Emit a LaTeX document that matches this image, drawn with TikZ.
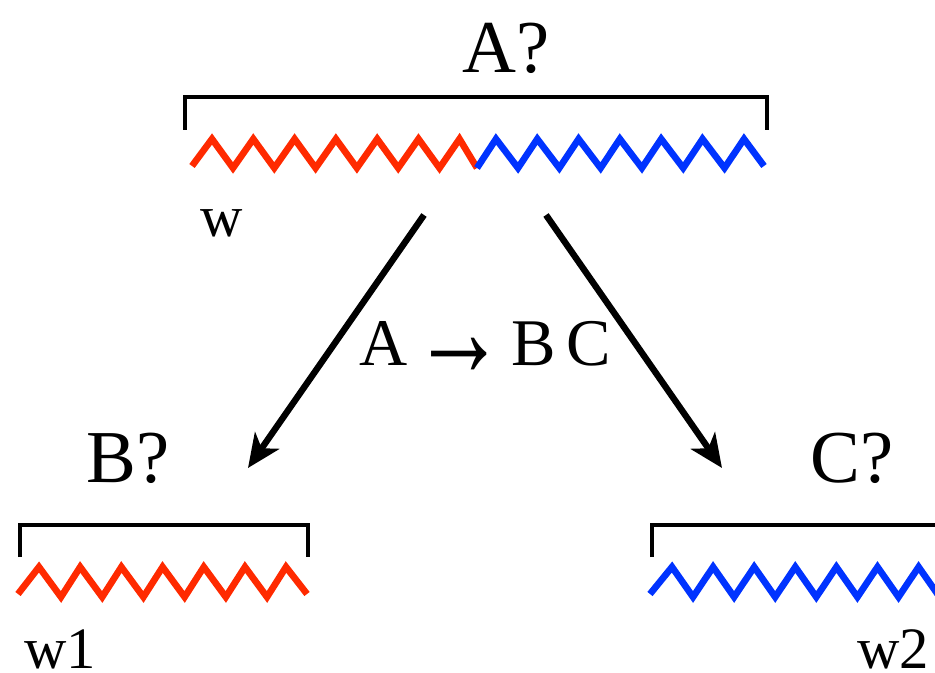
\documentclass[tikz,border=0pt]{standalone}
\usepackage{fontspec}
\setmainfont{Liberation Serif}
\usetikzlibrary{arrows.meta}
\definecolor{zred}{HTML}{FF2A00}
\definecolor{zblue}{HTML}{0033FF}
\newcommand{\bigrarrow}{$\vcenter{\hbox{\scalebox{1}[1.45]{\fontsize{70}{70}\selectfont\char"2192}}}$}
\begin{document}
\begin{tikzpicture}[x=0.75pt,y=-0.75pt,
  bracketline/.style={line width=2.4pt,line cap=butt,line join=miter},
  zig/.style={line width=5pt,line join=miter,miter limit=4,line cap=butt},
  bigtext/.style={font=\fontsize{56}{60}\selectfont,anchor=base,inner sep=0pt},
  midtext/.style={font=\fontsize{50}{56}\selectfont,anchor=base,inner sep=0pt},
  smalltext/.style={font=\fontsize{44}{48}\selectfont,anchor=base west,inner sep=0pt,text depth=0pt},
  bigarrow/.style={line width=4.8pt,-{Stealth[length=25pt,width=22pt,inset=7pt]}}]
\clip (0,0) rectangle (935,673);
\fill[white] (0,0) rectangle (935,673);

% top
\node[bigtext] (A) at (506,73) {A?};
\draw[bracketline] (185,130) -- (185,97) -- (767,97) -- (767,130);
\draw[zig,zred] (192,166)
  \foreach \k in {0,...,5}{ -- ({212+41.3*\k},139) -- ({233+41.3*\k},168) }
  -- (459.5,139) -- (477,168);
\draw[zig,zblue] (477,168)
  \foreach \k in {0,...,5}{ -- ({496+41.3*\k},139) -- ({518+41.3*\k},168) }
  -- (744,139) -- (764,166);
\node[smalltext] (w) at (200,237) {w};

% arrows
\coordinate (la) at (424,215);
\coordinate (lb) at (248,468);
\coordinate (ra) at (546,215);
\coordinate (rb) at (722,468);
\draw[bigarrow] (la) -- (lb);
\draw[bigarrow] (ra) -- (rb);
\node[midtext] (rule) at (485,366) {A\hspace{4pt}\bigrarrow\hspace{4pt}B\hspace{8pt}C};

% bottom left
\node[bigtext] (B) at (128,482) {B?};
\draw[bracketline] (20,557) -- (20,525) -- (308,525) -- (308,557);
\draw[zig,zred] (18,594)
  \foreach \k in {0,...,5}{ -- ({39+41.2*\k},567) -- ({61+41.2*\k},597) }
  -- (286,567) -- (307,594);
\node[smalltext] (w1) at (24,668) {w1};

% bottom right
\node[bigtext] (C) at (852,482) {C?};
\draw[bracketline] (652,557) -- (652,525) -- (945,525);
\draw[zig,zblue] (650,594)
  \foreach \k in {0,...,6}{ -- ({672+41.1*\k},567) -- ({693+41.1*\k},597) }
  -- (960,567);
\node[smalltext] (w2) at (857,668) {w2};
\end{tikzpicture}
\end{document}
